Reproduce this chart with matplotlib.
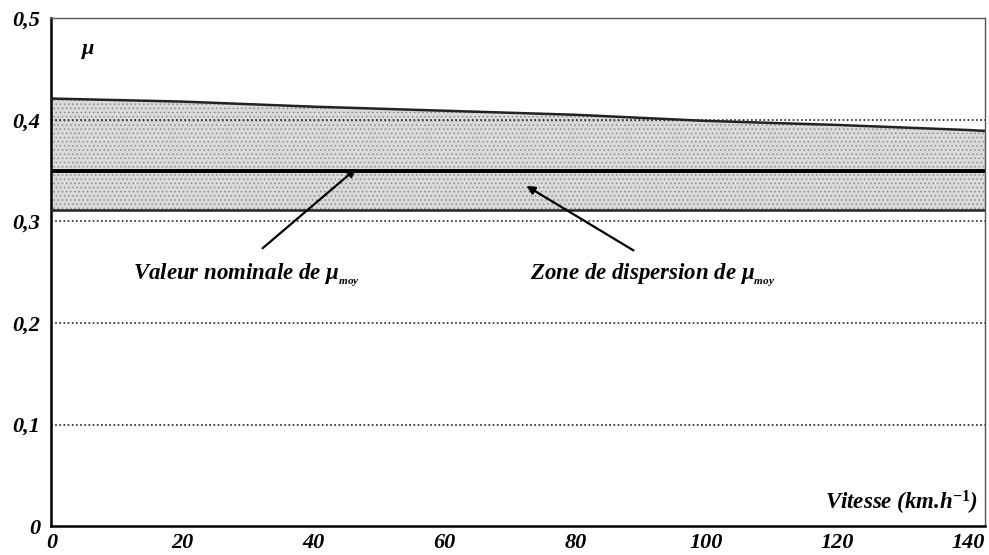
import matplotlib.pyplot as plt
import numpy as np

plt.rcParams['font.family'] = ['Liberation Serif', 'DejaVu Serif']
plt.rcParams['mathtext.fontset'] = 'custom'
plt.rcParams['mathtext.it'] = 'Liberation Serif:italic:bold'
plt.rcParams['mathtext.rm'] = 'Liberation Serif:bold'
plt.rcParams['hatch.color'] = '#8a8a8a'
plt.rcParams['hatch.linewidth'] = 0.6

# limites de la zone de dispersion du coefficient de frottement
vitesse = [0, 20, 40, 60, 80, 100, 120, 140, 143]
mu_haut = [0.421, 0.418, 0.413, 0.409, 0.405, 0.399, 0.395, 0.390, 0.389]
mu_bas = [0.311, 0.311, 0.311, 0.311, 0.311, 0.311, 0.311, 0.311, 0.311]
mu_nominal = 0.35

x_ticks = [0, 20, 40, 60, 80, 100, 120, 140]
y_ticks = [0, 0.1, 0.2, 0.3, 0.4, 0.5]
y_labels = ['0', '0,1', '0,2', '0,3', '0,4', '0,5']

fig = plt.figure(figsize=(9.89, 5.55), dpi=100)
ax = fig.add_axes([0.052, 0.052, 0.944, 0.915])

ax.fill_between(vitesse, mu_bas, mu_haut, facecolor='#dadada', edgecolor='none',
                hatch='....', zorder=1)
ax.plot(vitesse, mu_haut, color='#222222', lw=1.8, zorder=3)
ax.plot(vitesse, mu_bas, color='#222222', lw=1.8, zorder=3)
ax.axhline(mu_nominal, color='black', lw=2.8, zorder=4)

for y in [0.1, 0.2, 0.3, 0.4]:
    ax.axhline(y, color='#222222', lw=1.2, ls=(0, (1, 1.5)), zorder=2)

ax.set_xlim(0, 142.5)
ax.set_ylim(0, 0.5)
ax.set_xticks(x_ticks)
ax.set_xticklabels([str(v) for v in x_ticks])
ax.set_yticks(y_ticks)
ax.set_yticklabels(y_labels)
ax.tick_params(axis='x', length=0, pad=5, labelsize=16)
ax.tick_params(axis='y', length=0, pad=8, labelsize=16)
for lab in ax.get_xticklabels() + ax.get_yticklabels():
    lab.set_fontstyle('italic')
    lab.set_fontweight('bold')

for s in ['left', 'bottom']:
    ax.spines[s].set_linewidth(1.8)
for s in ['top', 'right']:
    ax.spines[s].set_linewidth(1.0)
    ax.spines[s].set_linestyle((0, (1, 1)))
    ax.spines[s].set_color('#555555')

txt = dict(fontsize=16.5, fontstyle='italic', fontweight='bold')
ax.text(4.5, 0.465, r'$\mu$', fontsize=16)
ax.text(141.5, 0.016, r'Vitesse (km.h$^{-1}$)', ha='right', **txt)

ax.annotate(r'Valeur nominale de $\mu_{_{moy}}$', xy=(46.5, 0.352), xytext=(12.5, 0.243),
            arrowprops=dict(arrowstyle='-|>', color='black', lw=1.6,
                            shrinkA=12, shrinkB=0, mutation_scale=12,
                            relpos=(0.5, 1.0)),
            **txt)
ax.annotate(r'Zone de dispersion de $\mu_{_{moy}}$', xy=(72.5, 0.335), xytext=(73, 0.243),
            arrowprops=dict(arrowstyle='-|>', color='black', lw=1.6,
                            shrinkA=12, shrinkB=0, mutation_scale=12,
                            relpos=(0.5, 1.0)),
            **txt)

fig.savefig('out.png', dpi=100)
